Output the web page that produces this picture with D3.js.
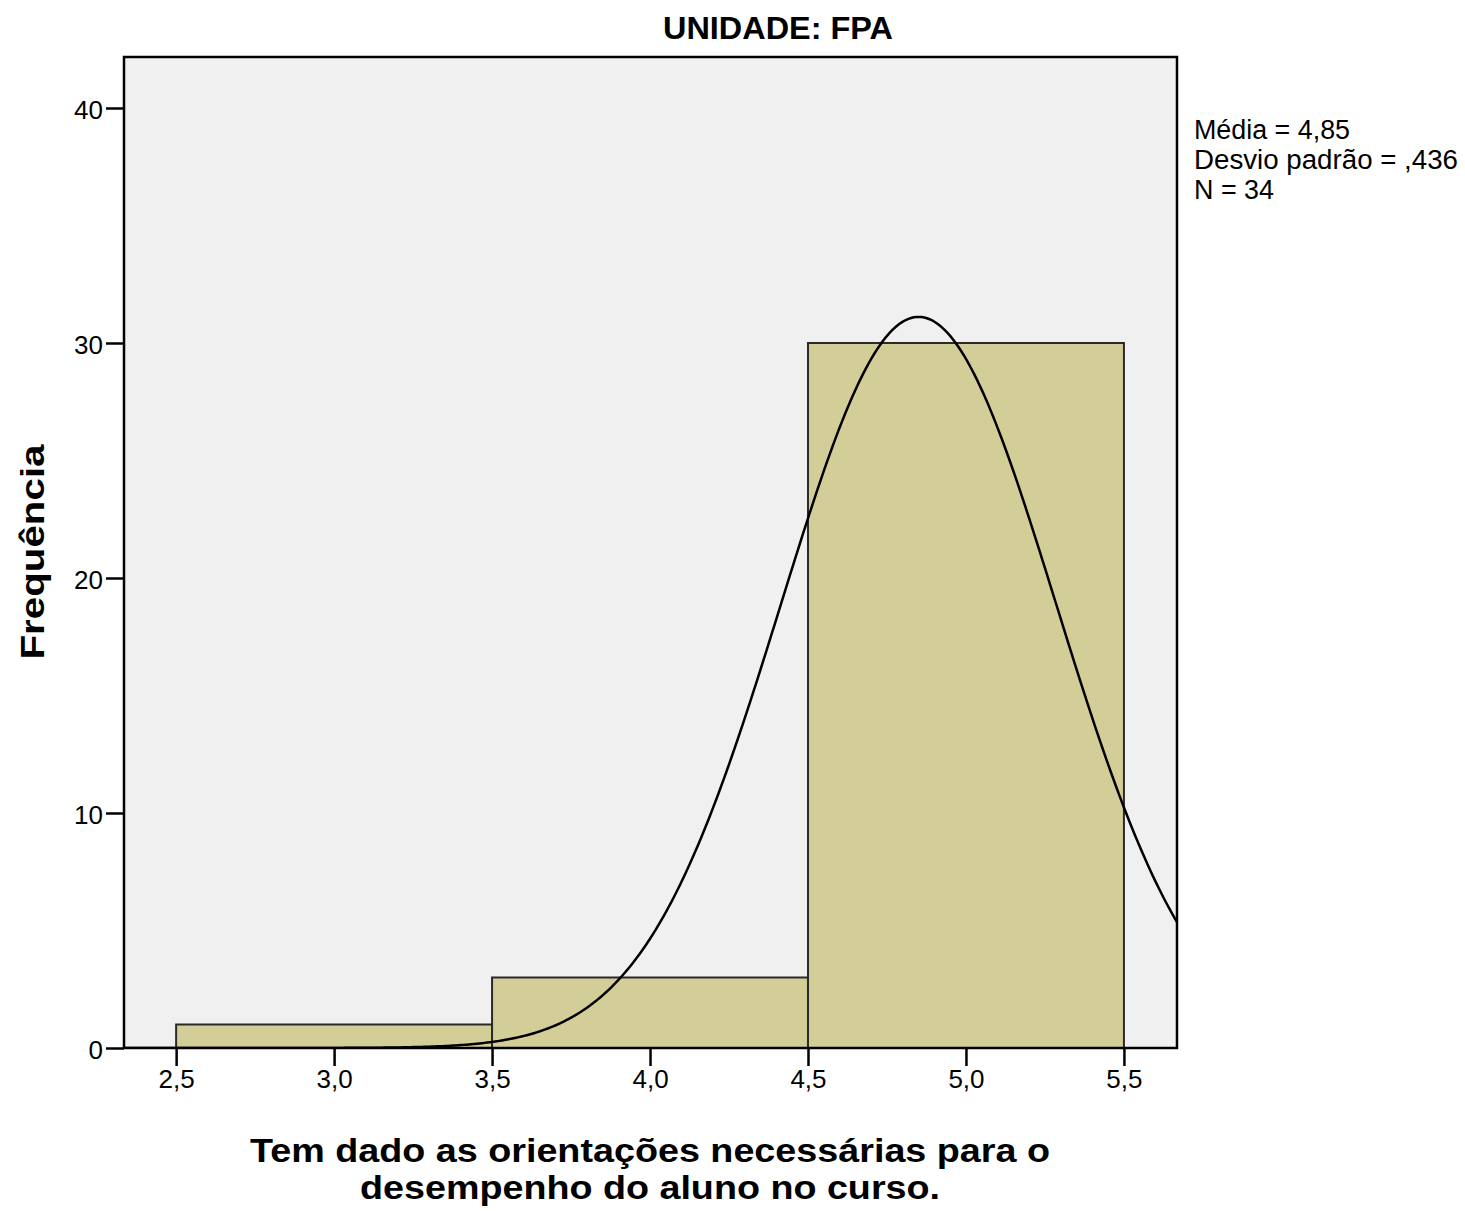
<!DOCTYPE html>
<html>
<head>
<meta charset="utf-8">
<script src="https://cdn.jsdelivr.net/npm/d3@7"></script>
<style>
  body { margin: 0; background: #fff; }
  text { font-family: 'Liberation Sans', Arial, sans-serif; fill: #000; }
</style>
</head>
<body>
<div id="chart"></div>
<script>
'use strict';

// histogram bins (lower edge, upper edge) and counts
let binStart = [2.5, 3.5, 4.5];
let binEnd = [3.5, 4.5, 5.5];
let binCount = [1, 3, 30];

let xTicks = [2.5, 3.0, 3.5, 4.0, 4.5, 5.0, 5.5];
let yTicks = [0, 10, 20, 30, 40];

let mean = 4.85;
let stdDev = 0.436;
let total = 34;
let statLines = ['Média = 4,85', 'Desvio padrão = ,436', 'N = 34'];

let width = 1465;
let height = 1211;
let plot = {left: 124, right: 1177, top: 57, bottom: 1048};

let svg = d3.select('#chart')
    .append('svg')
    .attr('width', width)
    .attr('height', height);

let x = d3.scaleLinear()
    .domain([2.335, 5.668])
    .range([plot.left, plot.right]);

let y = d3.scaleLinear()
    .domain([0, 42.17])
    .range([plot.bottom, plot.top]);

// plot background
svg.append('rect')
    .attr('x', plot.left)
    .attr('y', plot.top)
    .attr('width', plot.right - plot.left)
    .attr('height', plot.bottom - plot.top)
    .attr('fill', '#f0f0f0');

svg.append('clipPath')
    .attr('id', 'plot-clip')
    .append('rect')
    .attr('x', plot.left)
    .attr('y', plot.top)
    .attr('width', plot.right - plot.left)
    .attr('height', plot.bottom - plot.top);

// bars
svg.append('g')
    .selectAll('rect')
    .data(binCount)
    .join('rect')
    .attr('x', (d, i) => x(binStart[i]))
    .attr('y', d => y(d))
    .attr('width', (d, i) => x(binEnd[i]) - x(binStart[i]))
    .attr('height', d => y(0) - y(d))
    .attr('fill', '#d3ce98')
    .attr('stroke', '#2a2a2a')
    .attr('stroke-width', 2);

// normal curve scaled to the counts (bin width 1)
let pdf = v => total * Math.exp(-0.5 * Math.pow((v - mean) / stdDev, 2)) / (stdDev * Math.sqrt(2 * Math.PI));
let curveX = d3.range(0, 401).map(i => 2.335 + i * (5.668 - 2.335) / 400);
svg.append('path')
    .datum(curveX)
    .attr('clip-path', 'url(#plot-clip)')
    .attr('fill', 'none')
    .attr('stroke', '#000')
    .attr('stroke-width', 2.5)
    .attr('d', d3.line().x(d => x(d)).y(d => y(pdf(d))));

// frame
svg.append('rect')
    .attr('x', plot.left)
    .attr('y', plot.top)
    .attr('width', plot.right - plot.left)
    .attr('height', plot.bottom - plot.top)
    .attr('fill', 'none')
    .attr('stroke', '#000')
    .attr('stroke-width', 2.5);

// axes
let xAxis = d3.axisBottom(x)
    .tickValues(xTicks)
    .tickSize(18)
    .tickPadding(4)
    .tickFormat(d => d3.format('.1f')(d).replace('.', ','));

let gX = svg.append('g')
    .attr('transform', 'translate(0,' + plot.bottom + ')')
    .call(xAxis);
gX.select('.domain').remove();
gX.selectAll('line').attr('stroke', '#000').attr('stroke-width', 2.5);
gX.selectAll('text')
    .attr('font-size', 26)
    .attr('font-family', "'Liberation Sans', Arial, sans-serif")
    .attr('fill', '#000')
    .attr('dy', '0.68em');

let yAxis = d3.axisLeft(y)
    .tickValues(yTicks)
    .tickSize(18)
    .tickPadding(3);

let gY = svg.append('g')
    .attr('transform', 'translate(' + plot.left + ',0)')
    .call(yAxis);
gY.select('.domain').remove();
gY.selectAll('line').attr('stroke', '#000').attr('stroke-width', 2.5);
gY.selectAll('text')
    .attr('font-size', 26)
    .attr('font-family', "'Liberation Sans', Arial, sans-serif")
    .attr('fill', '#000')
    .attr('dy', '0.4em');

// title
svg.append('text')
    .attr('x', 778)
    .attr('y', 39)
    .attr('text-anchor', 'middle')
    .attr('font-size', 31)
    .attr('font-weight', 'bold')
    .attr('textLength', 230)
    .attr('lengthAdjust', 'spacingAndGlyphs')
    .text('UNIDADE: FPA');

// x axis title
svg.append('text')
    .attr('x', 650)
    .attr('y', 1162)
    .attr('text-anchor', 'middle')
    .attr('font-size', 34)
    .attr('font-weight', 'bold')
    .attr('textLength', 800)
    .attr('lengthAdjust', 'spacingAndGlyphs')
    .text('Tem dado as orientações necessárias para o');

svg.append('text')
    .attr('x', 650)
    .attr('y', 1199)
    .attr('text-anchor', 'middle')
    .attr('font-size', 34)
    .attr('font-weight', 'bold')
    .attr('textLength', 580)
    .attr('lengthAdjust', 'spacingAndGlyphs')
    .text('desempenho do aluno no curso.');

// y axis title
svg.append('text')
    .attr('transform', 'translate(44,552) rotate(-90)')
    .attr('text-anchor', 'middle')
    .attr('font-size', 34)
    .attr('font-weight', 'bold')
    .attr('textLength', 215)
    .attr('lengthAdjust', 'spacingAndGlyphs')
    .text('Frequência');

// stats box
svg.append('g')
    .selectAll('text')
    .data(statLines)
    .join('text')
    .attr('x', 1194)
    .attr('y', (d, i) => 139 + i * 30)
    .attr('font-size', 27)
    .attr('textLength', (d, i) => [156, 264, 80][i])
    .attr('lengthAdjust', 'spacingAndGlyphs')
    .text(d => d);
</script>
</body>
</html>
